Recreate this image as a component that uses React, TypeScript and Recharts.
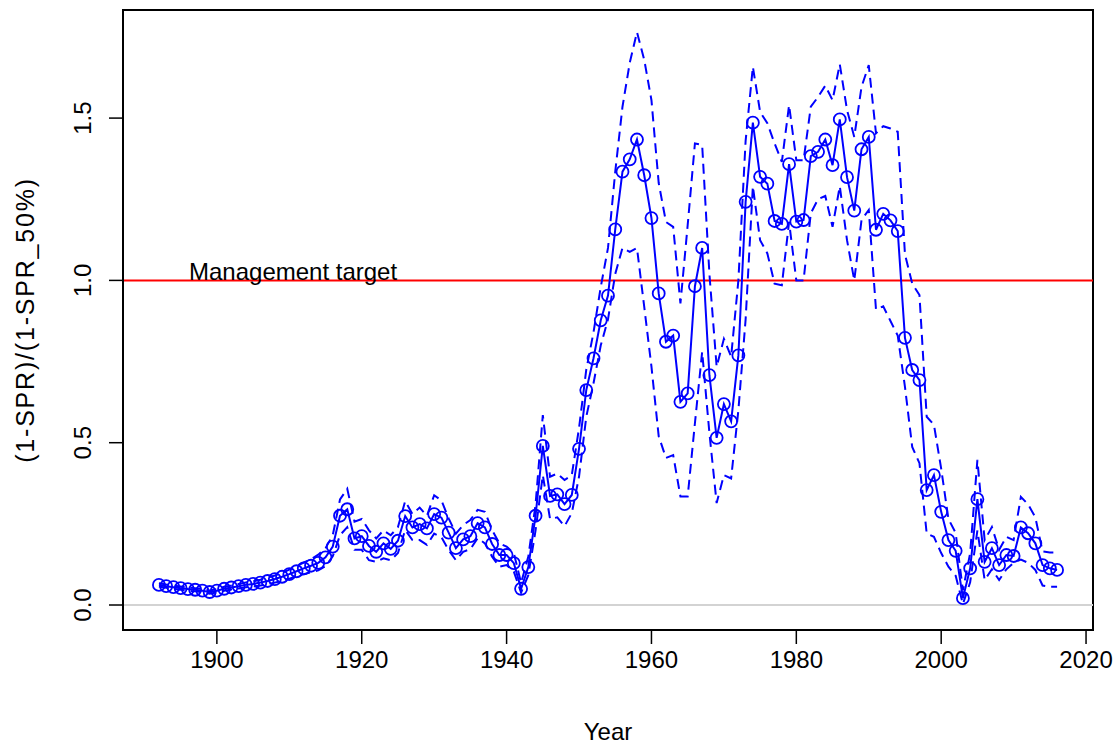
import { LineChart, Line, XAxis, YAxis, ReferenceLine, ReferenceArea } from "recharts";

const FONT = '"Liberation Sans", Arial, sans-serif';

const years = [
  1892, 1893, 1894, 1895, 1896, 1897, 1898, 1899, 1900, 1901,
  1902, 1903, 1904, 1905, 1906, 1907, 1908, 1909, 1910, 1911,
  1912, 1913, 1914, 1915, 1916, 1917, 1918, 1919, 1920, 1921,
  1922, 1923, 1924, 1925, 1926, 1927, 1928, 1929, 1930, 1931,
  1932, 1933, 1934, 1935, 1936, 1937, 1938, 1939, 1940, 1941,
  1942, 1943, 1944, 1945, 1946, 1947, 1948, 1949, 1950, 1951,
  1952, 1953, 1954, 1955, 1956, 1957, 1958, 1959, 1960, 1961,
  1962, 1963, 1964, 1965, 1966, 1967, 1968, 1969, 1970, 1971,
  1972, 1973, 1974, 1975, 1976, 1977, 1978, 1979, 1980, 1981,
  1982, 1983, 1984, 1985, 1986, 1987, 1988, 1989, 1990, 1991,
  1992, 1993, 1994, 1995, 1996, 1997, 1998, 1999, 2000, 2001,
  2002, 2003, 2004, 2005, 2006, 2007, 2008, 2009, 2010, 2011,
  2012, 2013, 2014, 2015, 2016,
];

// (1-SPR)/(1-SPR_50%) point estimate
const ratio = [
  0.062, 0.058, 0.055, 0.052, 0.049, 0.047, 0.044, 0.040, 0.044, 0.050,
  0.054, 0.058, 0.062, 0.065, 0.069, 0.074, 0.080, 0.087, 0.095, 0.104,
  0.113, 0.121, 0.130, 0.147, 0.180, 0.275, 0.295, 0.205, 0.212, 0.182,
  0.164, 0.190, 0.173, 0.198, 0.274, 0.239, 0.249, 0.236, 0.280, 0.269,
  0.223, 0.175, 0.202, 0.212, 0.252, 0.239, 0.188, 0.154, 0.154, 0.129,
  0.050, 0.117, 0.275, 0.490, 0.336, 0.341, 0.311, 0.339, 0.481, 0.662,
  0.760, 0.877, 0.953, 1.157, 1.335, 1.373, 1.434, 1.324, 1.192, 0.960,
  0.811, 0.830, 0.626, 0.652, 0.982, 1.100, 0.708, 0.515, 0.619, 0.566,
  0.769, 1.242, 1.486, 1.319, 1.298, 1.183, 1.174, 1.358, 1.181, 1.186,
  1.383, 1.396, 1.434, 1.355, 1.496, 1.318, 1.215, 1.404, 1.442, 1.156,
  1.205, 1.185, 1.152, 0.823, 0.724, 0.693, 0.354, 0.400, 0.287, 0.200,
  0.167, 0.021, 0.113, 0.326, 0.133, 0.175, 0.123, 0.154, 0.151, 0.239,
  0.221, 0.190, 0.123, 0.113, 0.108,
];

const upper = [
  0.067, 0.063, 0.060, 0.057, 0.054, 0.052, 0.049, 0.045, 0.049, 0.056,
  0.060, 0.065, 0.069, 0.073, 0.078, 0.084, 0.091, 0.099, 0.109, 0.120,
  0.131, 0.141, 0.155, 0.175, 0.215, 0.325, 0.358, 0.257, 0.265, 0.230,
  0.205, 0.230, 0.215, 0.240, 0.320, 0.280, 0.300, 0.275, 0.338, 0.322,
  0.267, 0.220, 0.246, 0.262, 0.293, 0.287, 0.231, 0.190, 0.180, 0.160,
  0.068, 0.149, 0.310, 0.585, 0.395, 0.405, 0.385, 0.400, 0.545, 0.725,
  0.840, 0.980, 1.100, 1.335, 1.535, 1.670, 1.765, 1.680, 1.555, 1.300,
  1.180, 1.165, 0.929, 1.170, 1.422, 1.417, 1.020, 0.734, 0.820, 0.765,
  1.000, 1.430, 1.658, 1.519, 1.484, 1.422, 1.365, 1.540, 1.370, 1.370,
  1.535, 1.565, 1.600, 1.555, 1.666, 1.525, 1.442, 1.596, 1.663, 1.453,
  1.475, 1.468, 1.458, 1.080, 0.990, 0.955, 0.580, 0.555, 0.420, 0.265,
  0.222, 0.045, 0.160, 0.447, 0.200, 0.240, 0.170, 0.210, 0.200, 0.333,
  0.310, 0.270, 0.165, 0.162, 0.162,
];

const lower = [
  0.057, 0.053, 0.050, 0.047, 0.044, 0.042, 0.039, 0.035, 0.039, 0.044,
  0.048, 0.051, 0.055, 0.057, 0.060, 0.064, 0.069, 0.075, 0.081, 0.088,
  0.095, 0.101, 0.107, 0.120, 0.150, 0.215, 0.240, 0.170, 0.170, 0.138,
  0.133, 0.144, 0.138, 0.160, 0.231, 0.200, 0.200, 0.185, 0.220, 0.209,
  0.169, 0.138, 0.164, 0.172, 0.206, 0.190, 0.149, 0.118, 0.123, 0.103,
  0.038, 0.092, 0.230, 0.400, 0.265, 0.270, 0.243, 0.283, 0.395, 0.580,
  0.683, 0.800, 0.880, 1.020, 1.100, 1.088, 1.100, 0.919, 0.734, 0.520,
  0.453, 0.462, 0.334, 0.334, 0.560, 0.780, 0.530, 0.314, 0.400, 0.390,
  0.600, 0.880, 1.290, 1.124, 1.083, 0.990, 0.985, 1.180, 1.000, 1.000,
  1.207, 1.250, 1.260, 1.165, 1.290, 1.124, 1.000, 1.186, 1.217, 0.910,
  0.920, 0.875, 0.830, 0.672, 0.487, 0.437, 0.220, 0.210, 0.160, 0.118,
  0.090, 0.003, 0.070, 0.230, 0.077, 0.110, 0.077, 0.110, 0.130, 0.140,
  0.130, 0.108, 0.060, 0.056, 0.056,
];

const xTicks = [1900, 1920, 1940, 1960, 1980, 2000, 2020];
const yTicks = [0, 0.5, 1.0, 1.5];
const xDomain = [1887.04, 2020.96];
const yDomain = [-0.077, 1.833];
const targetValue = 1.0;

const data = years.map((year, i) => ({
  year,
  ratio: ratio[i],
  upper: upper[i],
  lower: lower[i],
}));

// R-style tick labels on the y axis read bottom-to-top
function YTick({ x, y, payload }: any) {
  return (
    <text
      x={x}
      y={y}
      transform={`rotate(-90, ${x}, ${y})`}
      textAnchor="middle"
      fontSize={24}
      fontFamily={FONT}
      fill="#000"
    >
      {Number(payload.value).toFixed(1)}
    </text>
  );
}

function YTitle({ viewBox }: any) {
  const cx = viewBox.x + 34;
  const cy = viewBox.y + viewBox.height / 2;
  return (
    <text
      x={cx}
      y={cy}
      transform={`rotate(-90, ${cx}, ${cy})`}
      textAnchor="middle"
      fontSize={25}
      letterSpacing={1.8}
      fontFamily={FONT}
      fill="#000"
    >
      (1-SPR)/(1-SPR_50%)
    </text>
  );
}

function XTitle({ viewBox }: any) {
  return (
    <text
      x={viewBox.x + viewBox.width / 2}
      y={viewBox.y + 110}
      textAnchor="middle"
      fontSize={24}
      fontFamily={FONT}
      fill="#000"
    >
      Year
    </text>
  );
}

function TargetLabel({ viewBox }: any) {
  return (
    <text x={viewBox.x + 66} y={viewBox.y} fontSize={24} fontFamily={FONT} fill="#000">
      Management target
    </text>
  );
}

export default function App() {
  return (
    <div style={{ position: "absolute", left: 0, top: 0, width: 1120, height: 746, background: "#fff" }}>
      <LineChart width={1120} height={746} data={data} margin={{ top: 10, right: 27, bottom: 0, left: 0 }}>
        <XAxis
          dataKey="year"
          type="number"
          domain={xDomain}
          ticks={xTicks}
          allowDataOverflow
          height={116}
          tickSize={14}
          tickMargin={7}
          axisLine={{ stroke: "#000", strokeWidth: 2 }}
          tickLine={{ stroke: "#000", strokeWidth: 1.5 }}
          tick={{ fill: "#000", fontSize: 24, fontFamily: FONT }}
          label={<XTitle />}
        />
        <YAxis
          type="number"
          domain={yDomain}
          ticks={yTicks}
          allowDataOverflow
          width={123}
          tickSize={14}
          tickMargin={18}
          axisLine={{ stroke: "#000", strokeWidth: 2 }}
          tickLine={{ stroke: "#000", strokeWidth: 1.5 }}
          tick={<YTick />}
          label={<YTitle />}
        />

        {/* plot frame, as R's box() */}
        <ReferenceArea
          x1={xDomain[0]}
          x2={xDomain[1]}
          y1={yDomain[0]}
          y2={yDomain[1]}
          fill="none"
          fillOpacity={0}
          stroke="#000"
          strokeWidth={2}
        />
        <ReferenceLine y={0} stroke="#d3d3d3" strokeWidth={2} />
        <ReferenceLine y={targetValue} stroke="#ff0000" strokeWidth={2} label={<TargetLabel />} />

        <Line
          type="linear"
          dataKey="upper"
          stroke="#0000ff"
          strokeWidth={2}
          strokeDasharray="10 6"
          dot={false}
          activeDot={false}
          isAnimationActive={false}
        />
        <Line
          type="linear"
          dataKey="lower"
          stroke="#0000ff"
          strokeWidth={2}
          strokeDasharray="10 6"
          dot={false}
          activeDot={false}
          isAnimationActive={false}
        />
        <Line
          type="linear"
          dataKey="ratio"
          stroke="#0000ff"
          strokeWidth={2}
          dot={{ r: 6, stroke: "#0000ff", strokeWidth: 1.8, fill: "none" }}
          activeDot={false}
          isAnimationActive={false}
        />
      </LineChart>
    </div>
  );
}
